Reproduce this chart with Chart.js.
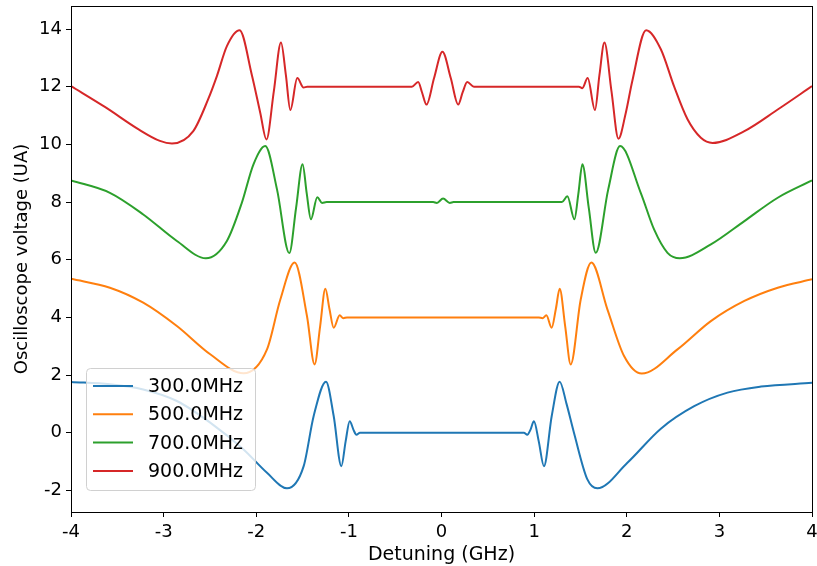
<!DOCTYPE html>
<html>
<head>
<meta charset="utf-8">
<script src="https://cdn.jsdelivr.net/npm/chart.js@4.4.1/dist/chart.umd.min.js"></script>
<style>
  html, body { margin: 0; padding: 0; background: #fff; }
  #wrap { width: 817px; height: 566px; }
</style>
</head>
<body>
<div id="wrap"><canvas id="grafico" width="817" height="566"></canvas></div>
<script>
// valores (detuning en GHz, voltaje en UA)
const etiquetas = ['300.0MHz', '500.0MHz', '700.0MHz', '900.0MHz'];
const colores = ['#1f77b4', '#ff7f0e', '#2ca02c', '#d62728'];

const x300 = [-4, -3.58, -3.22, -2.857, -2.497, -2.137, -1.884, -1.668, -1.488, -1.38, -1.247, -1.164, -1.081, -1.035, -0.991, -0.95, -0.919, -0.88,
  0.89, 0.926, 0.96, 0.998, 1.05, 1.106, 1.19, 1.276, 1.35, 1.43, 1.575, 1.683, 2.007, 2.368, 2.728, 3.088, 3.449, 4];
const y300 = [1.76, 1.68, 1.50, 1.10, 0.35, -0.58, -1.39, -1.93, -1.16, 0.58, 1.77, 0.58, -1.16, -0.3, 0.40, 0.1, -0.07, 0,
  0, -0.07, 0.1, 0.40, -0.3, -1.16, 0.58, 1.77, 1.0, 0, -1.62, -1.93, -1.04, 0.14, 0.92, 1.39, 1.60, 1.73];

const x500 = [-4, -3.58, -3.22, -2.857, -2.497, -2.137, -1.884, -1.74, -1.586, -1.452, -1.37, -1.31, -1.254, -1.21, -1.164, -1.099, -1.06, -1.02,
  1.05, 1.09, 1.132, 1.189, 1.235, 1.276, 1.335, 1.395, 1.503, 1.618, 1.791, 1.971, 2.162, 2.548, 2.908, 3.27, 3.63, 4];
const y500 = [5.34, 5.03, 4.51, 3.70, 2.72, 2.06, 2.89, 4.62, 5.90, 4.04, 2.37, 3.7, 4.99, 4.3, 3.64, 4.07, 3.97, 4.0,
  4.0, 3.97, 4.07, 3.64, 4.3, 4.99, 3.7, 2.37, 4.62, 5.90, 4.28, 2.66, 2.05, 2.89, 3.87, 4.57, 5.03, 5.32];

const x700 = [-4, -3.58, -3.22, -2.857, -2.544, -2.317, -2.155, -2.03, -1.903, -1.776, -1.643, -1.57, -1.5, -1.455, -1.41, -1.341, -1.29, -1.24,
  -0.09, -0.05, 0.017, 0.09, 0.13,
  1.30, 1.359, 1.435, 1.478, 1.521, 1.59, 1.665, 1.80, 1.928, 2.151, 2.295, 2.44, 2.573, 2.908, 3.27, 3.63, 4];
const y700 = [8.75, 8.32, 7.57, 6.65, 6.05, 6.65, 7.98, 9.31, 9.94, 8.44, 6.23, 7.8, 9.31, 8.3, 7.4, 8.17, 7.97, 8.0,
  8.0, 7.97, 8.12, 7.97, 8.0,
  8.0, 8.2, 7.4, 8.3, 9.31, 7.8, 6.24, 8.44, 9.94, 8.32, 7.05, 6.24, 6.05, 6.53, 7.34, 8.15, 8.75];

const x900 = [-4, -3.63, -3.27, -3.04, -2.91, -2.68, -2.52, -2.425, -2.317, -2.18, -2.047, -1.957, -1.89, -1.81, -1.733, -1.68, -1.632, -1.557, -1.489, -1.45,
  -0.32, -0.252, -0.21, -0.162, -0.08, 0.01, 0.10, 0.18, 0.228, 0.278, 0.35,
  1.484, 1.52, 1.578, 1.657, 1.705, 1.759, 1.835, 1.91, 1.99, 2.06, 2.209, 2.368, 2.51, 2.656, 2.8, 2.926, 3.27, 3.63, 4];
const y900 = [12.02, 11.29, 10.52, 10.12, 10.03, 10.46, 11.56, 12.37, 13.41, 13.96, 12.4, 11.1, 10.17, 11.85, 13.53, 12.4, 11.19, 12.30, 11.97, 12.0,
  12.0, 12.16, 11.8, 11.38, 12.3, 13.21, 12.3, 11.38, 11.8, 12.16, 12.0,
  12.0, 11.95, 12.3, 11.19, 12.4, 13.53, 11.85, 10.2, 11.1, 12.2, 13.96, 13.3, 12.02, 10.87, 10.23, 10.05, 10.46, 11.21, 12.02];

const xTicks = [-4, -3, -2, -1, 0, 1, 2, 3, 4];
const yTicks = [-2, 0, 2, 4, 6, 8, 10, 12, 14];

const series = [[x300, y300], [x500, y500], [x700, y700], [x900, y900]];

const datasets = series.map((s, i) => ({
  label: etiquetas[i],
  data: s[0].map((v, j) => ({ x: v, y: s[1][j] })),
  borderColor: colores[i],
  backgroundColor: colores[i],
  borderWidth: 2,
  pointRadius: 0,
  fill: false,
  cubicInterpolationMode: 'monotone'
}));

// marco completo + leyenda estilo matplotlib
const marco = {
  id: 'marco',
  afterDraw(chart) {
    const { ctx, chartArea: a } = chart;
    ctx.save();
    ctx.strokeStyle = '#000';
    ctx.lineWidth = 1;
    ctx.strokeRect(a.left + 0.5, a.top + 0.5, a.right - a.left, a.bottom - a.top);

    // leyenda
    const bx = a.left + 15, by = a.bottom - 144, bw = 169, bh = 122;
    ctx.fillStyle = 'rgba(255,255,255,0.8)';
    ctx.strokeStyle = '#d0d0d0';
    ctx.beginPath();
    ctx.roundRect(bx + 0.5, by + 0.5, bw, bh, 4);
    ctx.fill();
    ctx.stroke();
    ctx.font = '19px "DejaVu Sans"';
    ctx.textBaseline = 'middle';
    chart.data.datasets.forEach((d, i) => {
      const yy = by + 18 + i * 28.3;
      ctx.strokeStyle = d.borderColor;
      ctx.lineWidth = 2;
      ctx.beginPath();
      ctx.moveTo(bx + 7, yy);
      ctx.lineTo(bx + 47, yy);
      ctx.stroke();
      ctx.fillStyle = '#000';
      ctx.fillText(d.label, bx + 62, yy + 1);
    });
    ctx.restore();
  }
};

const ctx = document.getElementById('grafico').getContext('2d');
const grafico = new Chart(ctx, {
  type: 'line',
  data: { datasets: datasets },
  options: {
    responsive: false,
    devicePixelRatio: 1,
    animation: false,
    layout: { padding: { top: 6, right: 5, left: 0, bottom: 0 } },
    plugins: { legend: { display: false }, tooltip: { enabled: false } },
    scales: {
      x: {
        type: 'linear',
        min: -4,
        max: 4,
        afterBuildTicks: axis => { axis.ticks = xTicks.map(v => ({ value: v })); },
        afterFit: axis => { axis.height = 54; axis.paddingLeft = 0; axis.paddingRight = 0; },
        grid: { drawOnChartArea: false, drawTicks: true, tickLength: 5, color: '#000' },
        border: { display: true, color: '#000' },
        ticks: { color: '#000', padding: 5, maxRotation: 0, font: { family: '"DejaVu Sans"', size: 18 } },
        title: { display: true, text: 'Detuning (GHz)', color: '#000', padding: { top: 0, bottom: 0 }, font: { family: '"DejaVu Sans"', size: 19 } }
      },
      y: {
        type: 'linear',
        min: -2.75,
        max: 14.8,
        afterBuildTicks: axis => { axis.ticks = yTicks.map(v => ({ value: v })); },
        afterFit: axis => { axis.width = 71; axis.paddingTop = 0; axis.paddingBottom = 0; },
        grid: { drawOnChartArea: false, drawTicks: true, tickLength: 5, color: '#000' },
        border: { display: true, color: '#000' },
        ticks: { color: '#000', padding: 4, font: { family: '"DejaVu Sans"', size: 18 } },
        title: { display: true, text: 'Oscilloscope voltage (UA)', color: '#000', padding: { top: 12, bottom: 4 }, font: { family: '"DejaVu Sans"', size: 18 } }
      }
    }
  },
  plugins: [marco]
});
</script>
</body>
</html>
